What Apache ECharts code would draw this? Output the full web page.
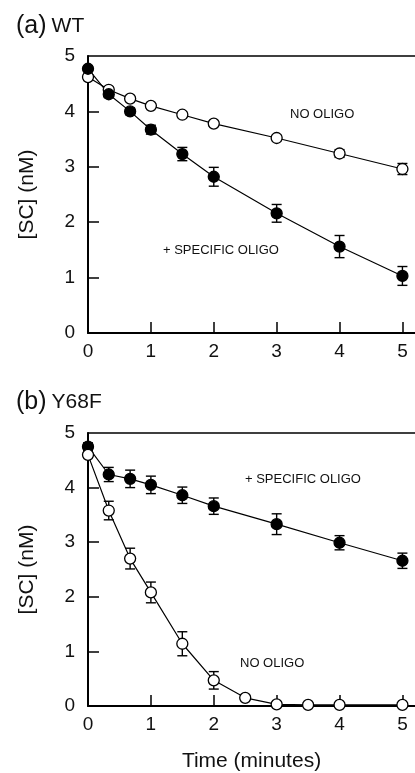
<!DOCTYPE html>
<html>
<head>
<meta charset="utf-8">
<script src="https://cdn.jsdelivr.net/npm/echarts@6/dist/echarts.min.js"></script>
<style>
  html, body { margin: 0; padding: 0; background: #fff; }
  #chart { width: 415px; height: 773px; }
</style>
</head>
<body>
<div id="chart"></div>
<script>
// 数据：时间点（分钟）
var timesA = [0, 0.33, 0.67, 1, 1.5, 2, 3, 4, 5];
var timesBOpen = [0, 0.33, 0.67, 1, 1.5, 2, 2.5, 3, 3.5, 4, 5];
var xTicks = [0, 1, 2, 3, 4, 5];

// (a) WT
var wtNoOligo = [4.62, 4.39, 4.23, 4.10, 3.94, 3.78, 3.52, 3.24, 2.96];
var wtNoOligoErr = [0.05, 0.05, 0.04, 0.04, 0.05, 0.05, 0.05, 0.07, 0.10];
var wtSpecific = [4.77, 4.31, 4.00, 3.67, 3.23, 2.82, 2.16, 1.56, 1.03];
var wtSpecificErr = [0.05, 0.06, 0.06, 0.08, 0.12, 0.17, 0.16, 0.20, 0.17];

// (b) Y68F
var y68fSpecific = [4.75, 4.24, 4.16, 4.05, 3.86, 3.66, 3.33, 2.99, 2.66];
var y68fSpecificErr = [0.07, 0.13, 0.16, 0.16, 0.15, 0.15, 0.19, 0.13, 0.14];
var y68fNoOligo = [4.60, 3.58, 2.70, 2.08, 1.14, 0.47, 0.15, 0.03, 0.02, 0.02, 0.02];
var y68fNoOligoErr = [0.05, 0.17, 0.19, 0.19, 0.22, 0.16, 0.05, 0.04, 0.04, 0.04, 0.04];

var FONT = 'Liberation Sans, Arial, Helvetica, sans-serif';

function pairs(xs, ys) {
    return xs.map(function (x, i) { return [x, ys[i]]; });
}
function errData(xs, ys, es) {
    return xs.map(function (x, i) { return [x, ys[i] - es[i], ys[i] + es[i]]; });
}

// 误差棒
function errorSeries(idx, data) {
    return {
        type: 'custom',
        xAxisIndex: idx * 2,
        yAxisIndex: idx,
        z: 1,
        data: data,
        renderItem: function (params, api) {
            var lo = api.coord([api.value(0), api.value(1)]);
            var hi = api.coord([api.value(0), api.value(2)]);
            var w = 5;
            var style = { stroke: '#000', lineWidth: 1.4 };
            return {
                type: 'group',
                children: [
                    { type: 'line', shape: { x1: lo[0], y1: lo[1], x2: hi[0], y2: hi[1] }, style: style },
                    { type: 'line', shape: { x1: lo[0] - w, y1: lo[1], x2: lo[0] + w, y2: lo[1] }, style: style },
                    { type: 'line', shape: { x1: hi[0] - w, y1: hi[1], x2: hi[0] + w, y2: hi[1] }, style: style }
                ]
            };
        }
    };
}

function lineSeries(idx, data, filled) {
    return {
        type: 'line',
        xAxisIndex: idx * 2,
        yAxisIndex: idx,
        z: 3,
        data: data,
        symbol: 'circle',
        symbolSize: 11,
        lineStyle: { color: '#000', width: 1.2 },
        itemStyle: { color: filled ? '#000' : '#fff', borderColor: '#000', borderWidth: 1.3 },
        emphasis: { disabled: true },
        animation: false
    };
}

function bottomAxis(grid, showName) {
    return {
        type: 'value',
        gridIndex: grid,
        position: 'bottom',
        min: 0,
        max: 5.2,
        interval: 1,
        name: showName ? 'Time (minutes)' : '',
        nameLocation: 'middle',
        nameGap: 45,
        nameTextStyle: { fontFamily: FONT, fontSize: 21, color: '#111' },
        axisLine: { onZero: false, lineStyle: { color: '#000', width: 2 } },
        axisTick: { inside: true, length: 11, customValues: [1, 2, 3, 4, 5], lineStyle: { color: '#000', width: 1.5 } },
        axisLabel: { customValues: xTicks, margin: 9, fontFamily: FONT, fontSize: 19, color: '#111' },
        splitLine: { show: false }
    };
}

function topAxis(grid) {
    return {
        type: 'value',
        gridIndex: grid,
        position: 'top',
        min: 0,
        max: 5.2,
        axisLine: { onZero: false, lineStyle: { color: '#000', width: 1.5 } },
        axisTick: { show: false },
        axisLabel: { show: false },
        splitLine: { show: false }
    };
}

function leftAxis(grid) {
    return {
        type: 'value',
        gridIndex: grid,
        min: 0,
        max: 5,
        interval: 1,
        name: '[SC] (nM)',
        nameLocation: 'middle',
        nameRotate: 90,
        nameGap: 50,
        nameTextStyle: { fontFamily: FONT, fontSize: 21, color: '#111' },
        axisLine: { show: true, onZero: false, lineStyle: { color: '#000', width: 2 } },
        axisTick: { inside: true, length: 11, customValues: [1, 2, 3, 4], lineStyle: { color: '#000', width: 1.5 } },
        axisLabel: { margin: 13, fontFamily: FONT, fontSize: 19, color: '#111' },
        splitLine: { show: false }
    };
}

function panelTitle(label, name, top) {
    return {
        text: '{p|' + label + '} {n|' + name + '}',
        left: 11, top: top,
        textStyle: { rich: {
            p: { fontFamily: FONT, fontSize: 25, fontWeight: 'normal', color: '#111' },
            n: { fontFamily: FONT, fontSize: 21, fontWeight: 'normal', color: '#111' }
        } }
    };
}

var chart = echarts.init(document.getElementById('chart'), null, { renderer: 'canvas' });

var option = {
    animation: false,
    backgroundColor: '#fff',
    title: [panelTitle('(a)', 'WT', 9), panelTitle('(b)', 'Y68F', 385)],
    grid: [
        { left: 88, top: 56, width: 328, height: 277 },
        { left: 88, top: 433, width: 328, height: 274 }
    ],
    xAxis: [bottomAxis(0, false), topAxis(0), bottomAxis(1, true), topAxis(1)],
    yAxis: [leftAxis(0), leftAxis(1)],
    graphic: [
        { type: 'text', left: 290, top: 108, style: { text: 'NO OLIGO', font: '13px ' + FONT, fill: '#111' } },
        { type: 'text', left: 163, top: 244, style: { text: '+ SPECIFIC OLIGO', font: '13px ' + FONT, fill: '#111' } },
        { type: 'text', left: 245, top: 473, style: { text: '+ SPECIFIC OLIGO', font: '13px ' + FONT, fill: '#111' } },
        { type: 'text', left: 240, top: 657, style: { text: 'NO OLIGO', font: '13px ' + FONT, fill: '#111' } }
    ],
    series: [
        errorSeries(0, errData(timesA, wtNoOligo, wtNoOligoErr)),
        errorSeries(0, errData(timesA, wtSpecific, wtSpecificErr)),
        lineSeries(0, pairs(timesA, wtNoOligo), false),
        lineSeries(0, pairs(timesA, wtSpecific), true),
        errorSeries(1, errData(timesA, y68fSpecific, y68fSpecificErr)),
        errorSeries(1, errData(timesBOpen, y68fNoOligo, y68fNoOligoErr)),
        lineSeries(1, pairs(timesA, y68fSpecific), true),
        lineSeries(1, pairs(timesBOpen, y68fNoOligo), false)
    ]
};

chart.setOption(option);
</script>
</body>
</html>
